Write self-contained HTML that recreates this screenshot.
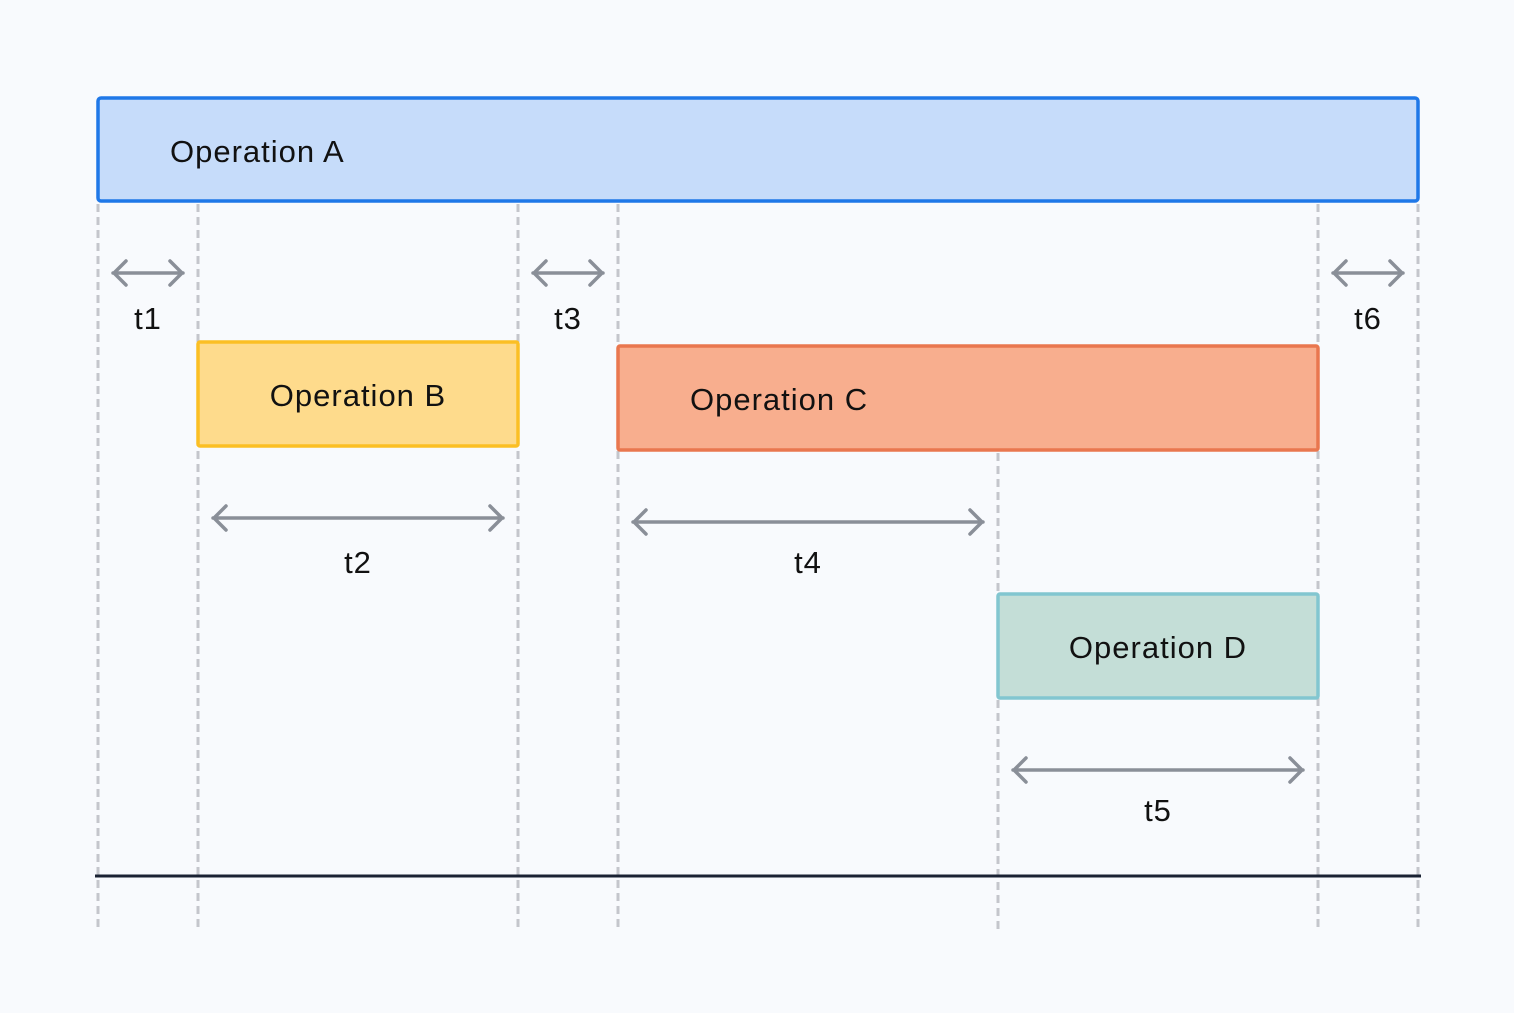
<!DOCTYPE html>
<html><head><style>html,body{margin:0;padding:0;background:#f8fafd;}</style></head>
<body>
<svg width="1514" height="1008" viewBox="0 0 1514 1008" xmlns="http://www.w3.org/2000/svg" font-family="Liberation Sans, sans-serif">
<rect width="1514" height="1008" fill="#f8fafd"/>
<g stroke="#c4c6cc" stroke-width="3" stroke-dasharray="8 5">
<line x1="98" y1="204" x2="98" y2="932"/>
<line x1="198" y1="204" x2="198" y2="932"/>
<line x1="518" y1="204" x2="518" y2="932"/>
<line x1="618" y1="204" x2="618" y2="932"/>
<line x1="998" y1="453" x2="998" y2="932"/>
<line x1="1318" y1="204" x2="1318" y2="932"/>
<line x1="1418" y1="204" x2="1418" y2="932"/>
</g>
<rect x="98" y="98" width="1320" height="103" rx="3" fill="#c6dcfa" stroke="#1f78e8" stroke-width="3.5"/>
<rect x="198" y="342" width="320" height="104" rx="2" fill="#fedb8c" stroke="#fbbf24" stroke-width="3.5"/>
<rect x="618" y="346" width="700" height="104" rx="2" fill="#f8ae8e" stroke="#e9774f" stroke-width="3.5"/>
<rect x="998" y="594" width="320" height="104" rx="2" fill="#c4ded7" stroke="#82c6d0" stroke-width="3.5"/>
<line x1="95" y1="876" x2="1421" y2="876" stroke="#1a2233" stroke-width="3"/>
<g stroke="#8a8f98" stroke-width="3.5" fill="none" stroke-linecap="round" stroke-linejoin="round">
<path d="M113 273H183M126 261L114 273L126 285M170 261L182 273L170 285"/>
<path d="M533 273H603M546 261L534 273L546 285M590 261L602 273L590 285"/>
<path d="M1333 273H1403M1346 261L1334 273L1346 285M1390 261L1402 273L1390 285"/>
<path d="M213 518H503M226 506L214 518L226 530M490 506L502 518L490 530"/>
<path d="M633 522H983M646 510L634 522L646 534M970 510L982 522L970 534"/>
<path d="M1013 770H1303M1026 758L1014 770L1026 782M1290 758L1302 770L1290 782"/>
</g>
<g font-size="31" fill="#111" letter-spacing="1">
<text x="170" y="162">Operation A</text>
<text x="358" y="406" text-anchor="middle">Operation B</text>
<text x="690" y="410">Operation C</text>
<text x="1158" y="658" text-anchor="middle">Operation D</text>
<text x="148" y="329" text-anchor="middle">t1</text>
<text x="568" y="329" text-anchor="middle">t3</text>
<text x="1368" y="329" text-anchor="middle">t6</text>
<text x="358" y="573" text-anchor="middle">t2</text>
<text x="808" y="573" text-anchor="middle">t4</text>
<text x="1158" y="821" text-anchor="middle">t5</text>
</g>
</svg>
</body></html>
